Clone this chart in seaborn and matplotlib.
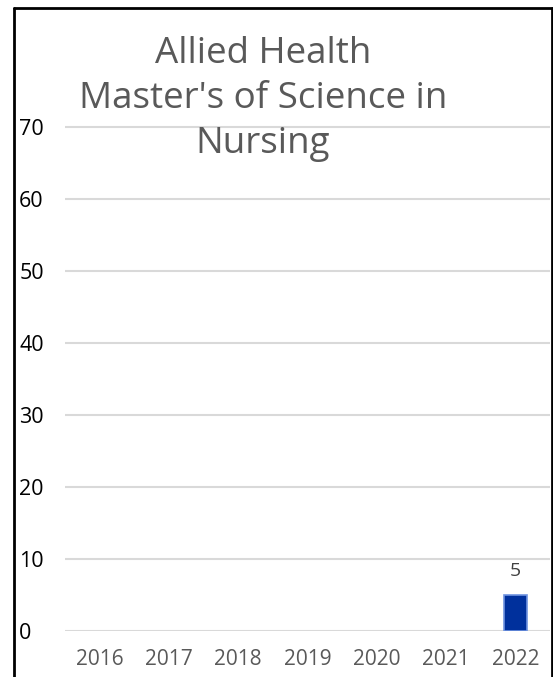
import matplotlib
matplotlib.use("Agg")
import matplotlib.pyplot as plt
import seaborn as sns
import pandas as pd

# Enrollment counts by year
years = ["2016", "2017", "2018", "2019", "2020", "2021", "2022"]
counts = [0, 0, 0, 0, 0, 0, 5]
y_ticks = [0, 10, 20, 30, 40, 50, 60, 70]
title_lines = ["Allied Health", "Master's of Science in", "Nursing"]

sns.set_theme(style="white")
plt.rcParams["font.family"] = ["Open Sans", "DejaVu Sans"]

W, H = 553, 677
fig = plt.figure(figsize=(W / 100, H / 100), dpi=100)

# axes placement in pixels
ax_left, ax_right = 65, 550
ax_bottom_px, ax_top_px = 631, 55   # y=0 at 631, y=80 at 55
ax = fig.add_axes([ax_left / W, 1 - ax_bottom_px / H,
                   (ax_right - ax_left) / W, (ax_bottom_px - ax_top_px) / H])

df = pd.DataFrame({"year": years, "count": counts})
sns.barplot(data=df, x="year", y="count", ax=ax, color="#00309C", saturation=1,
            width=0.33, edgecolor="#6F93E0", linewidth=1.2, zorder=3)
# no outline on empty bars
for patch, v in zip(ax.patches, counts):
    if v == 0:
        patch.set_linewidth(0)

ax.set_ylim(0, 80)
ax.set_yticks(y_ticks)
ax.set_yticklabels([str(t) for t in y_ticks])
ax.yaxis.grid(True, color="#D9D9D9", linewidth=1.5, zorder=0)
ax.set_axisbelow(True)
for s in ax.spines.values():
    s.set_visible(False)
ax.set_xlabel("")
ax.set_ylabel("")

ax.tick_params(axis="y", length=0, pad=33, labelsize=15.5, labelcolor="black")
for lab in ax.get_yticklabels():
    lab.set_horizontalalignment("left")
ax.tick_params(axis="x", length=0, pad=13, labelsize=15, labelcolor="#595959")

# value label above the non-zero bar
for i, v in enumerate(counts):
    if v > 0:
        ax.annotate(str(v), (i, v), xytext=(0, 11), textcoords="offset points",
                    ha="center", va="bottom", fontsize=14, color="#404040")

# three-line title, one baseline per line
for k, line in enumerate(title_lines):
    fig.text(263 / W, 1 - (63 + 45 * k) / H, line, ha="center", va="baseline",
             fontsize=26.5, color="#595959")

# frame around the chart (open at the bottom)
lw = 2
fig.add_artist(plt.Line2D([14 / W, 14 / W], [0, 1 - 8 / H], transform=fig.transFigure,
                          color="black", linewidth=lw))
fig.add_artist(plt.Line2D([14 / W, 552 / W], [1 - 8 / H, 1 - 8 / H], transform=fig.transFigure,
                          color="black", linewidth=lw))
fig.add_artist(plt.Line2D([552 / W, 552 / W], [0, 1 - 8 / H], transform=fig.transFigure,
                          color="black", linewidth=lw))

fig.savefig("out.png", dpi=100)
